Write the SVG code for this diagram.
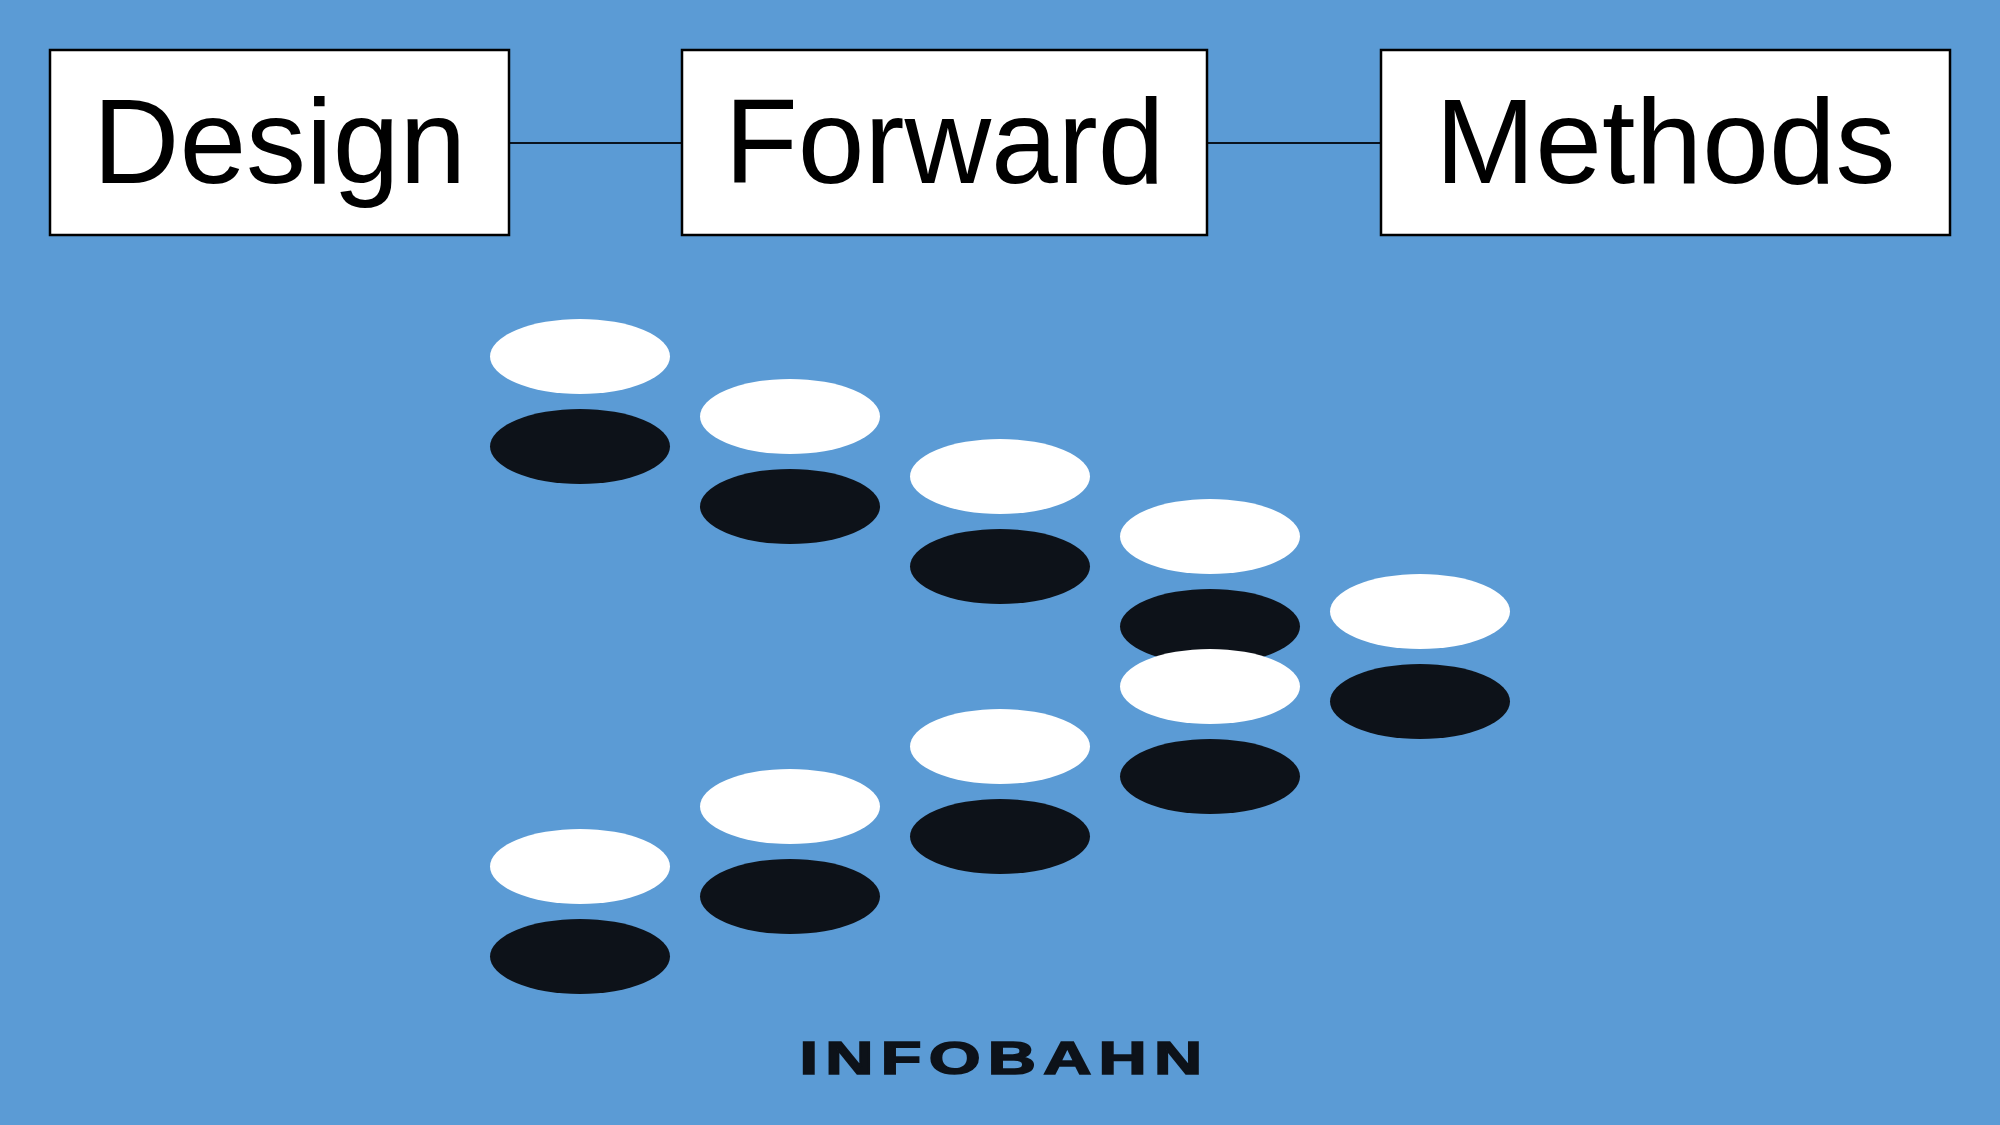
<svg xmlns="http://www.w3.org/2000/svg" width="2000" height="1125" viewBox="0 0 2000 1125">
  <style>
    .box { fill: #FFFFFF; stroke: #000000; stroke-width: 2.5; }
    .label { font-family: "Liberation Sans", Arial, sans-serif; font-size: 120px; fill: #000000; text-anchor: middle; }
    .conn { stroke: #0A1420; stroke-width: 2; fill: none; }
    .w { fill: #FFFFFF; }
    .b { fill: #0D1219; }
    .logo { font-family: "Liberation Sans", Arial, sans-serif; font-weight: bold; font-size: 46px; fill: #0D1219; stroke: #0D1219; stroke-width: 1.6px; stroke-linejoin: miter; letter-spacing: 5px; }
  </style>
  <rect x="0" y="0" width="2000" height="1125" fill="#5B9BD5"/>

  <g id="connectors">
    <line class="conn" x1="509" y1="143" x2="682" y2="143"/>
    <line class="conn" x1="1207" y1="143" x2="1381" y2="143"/>
  </g>

  <g id="node-design">
    <rect class="box" x="50" y="50" width="459" height="185"/>
    <text class="label" x="279.5" y="183">Design</text>
  </g>
  <g id="node-forward">
    <rect class="box" x="682" y="50" width="525" height="185"/>
    <text class="label" x="944.5" y="183">Forward</text>
  </g>
  <g id="node-methods">
    <rect class="box" x="1381" y="50" width="569" height="185"/>
    <text class="label" x="1665.5" y="183">Methods</text>
  </g>

  <g id="discs-upper">
    <ellipse class="w" cx="580" cy="356.5" rx="90" ry="37.5"/>
    <ellipse class="b" cx="580" cy="446.5" rx="90" ry="37.5"/>
    <ellipse class="w" cx="790" cy="416.5" rx="90" ry="37.5"/>
    <ellipse class="b" cx="790" cy="506.5" rx="90" ry="37.5"/>
    <ellipse class="w" cx="1000" cy="476.5" rx="90" ry="37.5"/>
    <ellipse class="b" cx="1000" cy="566.5" rx="90" ry="37.5"/>
    <ellipse class="w" cx="1210" cy="536.5" rx="90" ry="37.5"/>
    <ellipse class="b" cx="1210" cy="626.5" rx="90" ry="37.5"/>
  </g>
  <g id="discs-middle">
    <ellipse class="w" cx="1420" cy="611.5" rx="90" ry="37.5"/>
    <ellipse class="b" cx="1420" cy="701.5" rx="90" ry="37.5"/>
  </g>
  <g id="discs-lower">
    <ellipse class="w" cx="1210" cy="686.5" rx="90" ry="37.5"/>
    <ellipse class="b" cx="1210" cy="776.5" rx="90" ry="37.5"/>
    <ellipse class="w" cx="1000" cy="746.5" rx="90" ry="37.5"/>
    <ellipse class="b" cx="1000" cy="836.5" rx="90" ry="37.5"/>
    <ellipse class="w" cx="790" cy="806.5" rx="90" ry="37.5"/>
    <ellipse class="b" cx="790" cy="896.5" rx="90" ry="37.5"/>
    <ellipse class="w" cx="580" cy="866.5" rx="90" ry="37.5"/>
    <ellipse class="b" cx="580" cy="956.5" rx="90" ry="37.5"/>
  </g>

  <g id="logo">
    <text class="logo" transform="translate(799.5,1073.5) scale(1.45,1)" x="0" y="0">INFOBAHN</text>
  </g>
</svg>
